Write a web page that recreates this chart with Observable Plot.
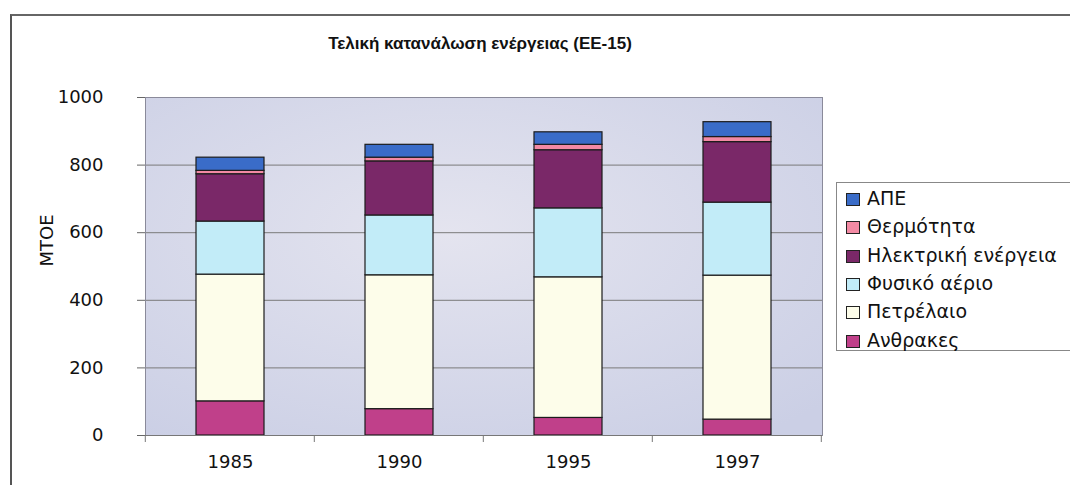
<!DOCTYPE html>
<html>
<head>
<meta charset="utf-8">
<script src="https://cdn.jsdelivr.net/npm/d3@7"></script>
<script src="https://cdn.jsdelivr.net/npm/@observablehq/plot@0.6"></script>
<style>
  html, body { margin: 0; padding: 0; background: #fff; }
  #wrap { position: relative; width: 1070px; height: 485px; overflow: hidden; background: #fff; }
  #frame { position: absolute; left: 10px; top: 14px; width: 1100px; height: 500px;
           border-left: 2px solid #555; border-top: 2px solid #666; }
  #title { position: absolute; left: 0; width: 960px; top: 34px; text-align: center;
           font: bold 17px "Liberation Sans", Arial, sans-serif; color: #111; }
  #legend { position: absolute; left: 836px; top: 182px; width: 260px; height: 169px;
            border: 1px solid #888; background: #fff; box-sizing: border-box;
            font: 19px "DejaVu Sans", sans-serif; color: #111; }
  .item { position: absolute; left: 9px; height: 22px; line-height: 22px; white-space: nowrap; }
  .sw { display: inline-block; width: 14px; height: 13px; border: 1px solid #222; vertical-align: -1px; margin-right: 7px; box-sizing: border-box; }
  #chart { position: absolute; left: 0; top: 0; }
</style>
</head>
<body>
<div id="wrap">
  <div id="frame"></div>
  <div id="chart"></div>
  <div id="title">Τελική κατανάλωση ενέργειας (ΕΕ-15)</div>
  <div id="legend"></div>
</div>
<script>
// ---- Data (MTOE) ----
const years = ["1985", "1990", "1995", "1997"];
const seriesNames = ["Ανθρακες", "Πετρέλαιο", "Φυσικό αέριο", "Ηλεκτρική ενέργεια", "Θερμότητα", "ΑΠΕ"];
const coal = [101, 78, 52, 47];
const oil = [375, 396, 416, 426];
const gas = [157, 177, 204, 216];
const electricity = [140, 160, 172, 179];
const heat = [10, 11, 16, 15];
const renewables = [39, 38, 37, 44];
const seriesColors = ["#c0408a", "#fdfdea", "#c2ecf8", "#7a2868", "#f38aa4", "#3a6cc8"];
const yTicks = [0, 200, 400, 600, 800, 1000];
const legendOrder = ["ΑΠΕ", "Θερμότητα", "Ηλεκτρική ενέργεια", "Φυσικό αέριο", "Πετρέλαιο", "Ανθρακες"];

const seriesValues = [coal, oil, gas, electricity, heat, renewables];
const rows = [];
years.forEach((yr, i) => {
  seriesNames.forEach((s, j) => rows.push({year: yr, series: s, value: seriesValues[j][i]}));
});

function bgDefs() {
  const defs = d3.create("svg:defs");
  const g = defs.append("radialGradient").attr("id", "plotbg")
    .attr("cx", "45%").attr("cy", "40%").attr("r", "75%");
  g.append("stop").attr("offset", "0%").attr("stop-color", "#e4e4ef");
  g.append("stop").attr("offset", "100%").attr("stop-color", "#cbcfe5");
  return defs.node();
}
function xTicks(index, scales) {
  const x = scales.x;
  const step = x(years[1]) - x(years[0]);
  const gap = step * 0.3;
  const pos = years.map(y => x(y) - gap);
  pos.push(x(years[years.length - 1]) + step - gap);
  const y0 = scales.y(0);
  const g = d3.create("svg:g").attr("stroke", "#777").attr("stroke-width", 1);
  pos.forEach(p => g.append("line").attr("x1", p).attr("x2", p).attr("y1", y0).attr("y2", y0 + 7));
  return g.node();
}

const chart = Plot.plot({
  width: 1070,
  height: 485,
  marginLeft: 145,
  marginRight: 248,
  marginTop: 97,
  marginBottom: 50,
  style: {background: "transparent", fontFamily: "DejaVu Sans, sans-serif"},
  x: {domain: years, paddingInner: 0.6, paddingOuter: 0.3, label: null},
  y: {domain: [0, 1000], label: null},
  color: {domain: seriesNames, range: seriesColors},
  marks: [
    bgDefs,
    Plot.frame({fill: "url(#plotbg)", stroke: "none"}),
    Plot.gridY(yTicks.filter(d => d > 0), {stroke: "#7a7a7a", strokeOpacity: 1, strokeWidth: 1}),
    Plot.frame({stroke: "#8a8a9a", strokeWidth: 1}),
    Plot.barY(rows, {x: "year", y: "value", fill: "series", stroke: "#1c1c1c", strokeWidth: 1.2}),
    Plot.axisY({ticks: yTicks, tickSize: 8, tickPadding: 34, fontSize: 18, stroke: "#666", label: null, tickFormat: d => String(d), color: "#111"}),
    Plot.axisX({tickSize: 0, tickPadding: 20, fontSize: 18, label: null, color: "#111"}),
    Plot.ruleY([0], {stroke: "#777"}),
    xTicks,
    Plot.text(["MTOE"], {frameAnchor: "left", dx: -98, rotate: -90, fontSize: 18, fill: "#111", text: d => d, y: () => 500})
  ]
});
document.getElementById("chart").appendChild(chart);

const legend = document.getElementById("legend");
legendOrder.forEach((name, i) => {
  const idx = seriesNames.indexOf(name);
  const item = document.createElement("div");
  item.className = "item";
  item.style.top = (4 + i * 28.3) + "px";
  item.innerHTML = `<span class="sw" style="background:${seriesColors[idx]}"></span>${name}`;
  legend.appendChild(item);
});
</script>
</body>
</html>
